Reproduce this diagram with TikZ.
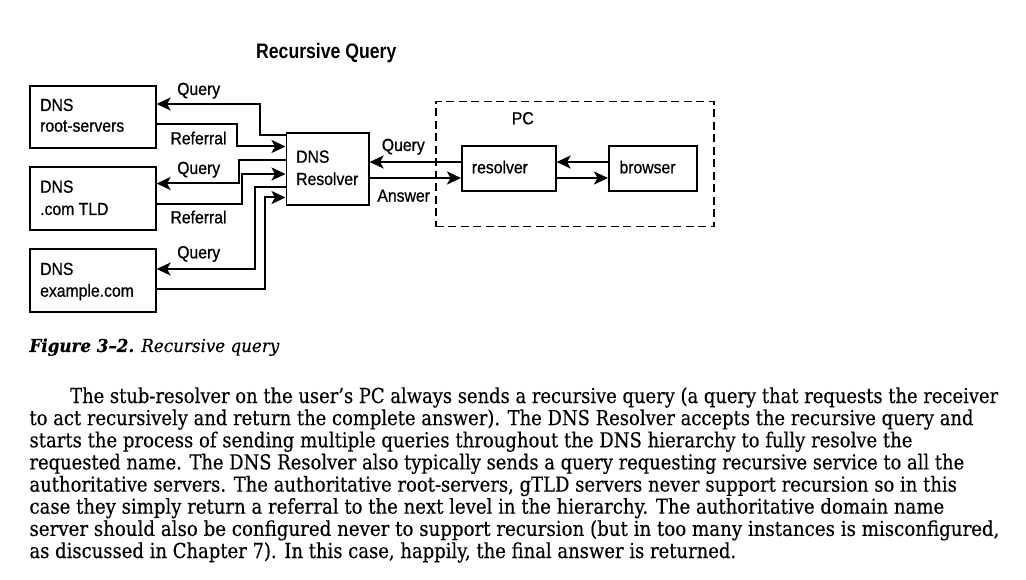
\documentclass[tikz,border=0pt]{standalone}
\usepackage{fontspec}
\usepackage{graphicx}
\usetikzlibrary{arrows.meta}
\newfontfamily\diafont[FakeStretch=0.9,FakeBold=0.7]{Liberation Sans}
\newfontfamily\ttlfont[FakeStretch=0.84]{Liberation Sans}
\newfontfamily\bodyfont[FakeBold=0.25]{DejaVu Serif}
\newlength\fitlen
\newcommand\fitline[2]{\settowidth{\fitlen}{#2}\pgfmathsetmacro\fitsx{#1/\fitlen}\scalebox{\fitsx}[1]{#2}}
\begin{document}
\begin{tikzpicture}[x=1pt,y=-1pt,
  box/.style={draw, line width=1.6pt, inner sep=0pt, anchor=north west},
  pcbox/.style={draw, line width=1.5pt, dash pattern=on 8pt off 4.5pt, inner sep=0pt, anchor=north west},
  lbl/.style={font=\diafont\fontsize{17.5}{21}\selectfont, inner sep=0pt, anchor=base},
  lblw/.style={lbl, anchor=base west},
  arr/.style={line width=2pt, -{Stealth[length=14pt,width=13pt,inset=3.5pt]}},
  para/.style={font=\bodyfont\fontsize{20.6}{22}\selectfont, inner sep=0pt, anchor=base west}]
\useasboundingbox (0,0) rectangle (1026,580);
\fill[white] (0,0) rectangle (1026,580);

% title
\node[inner sep=0pt, anchor=base, font=\ttlfont\bfseries\fontsize{21}{25}\selectfont] (title) at (326.3,58.5) {Recursive Query};

% boxes
\node[box, minimum width=126pt, minimum height=62pt] (root) at (29,85) {};
\node[box, minimum width=126pt, minimum height=63pt] (com) at (29,166) {};
\node[box, minimum width=126pt, minimum height=63pt] (ex) at (29,248) {};
\node[box, minimum width=82.5pt, minimum height=72pt] (res) at (285.5,132) {};
\node[pcbox, minimum width=278pt, minimum height=125pt] (pc) at (435,101) {};
\node[box, minimum width=94pt, minimum height=45pt] (rsv) at (461,145) {};
\node[box, minimum width=88pt, minimum height=45pt] (brw) at (608,145) {};

% box texts
\node[lblw] (rootA) at (40,111) {DNS};
\node[lblw] (rootB) at (40,131.7) {root-servers};
\node[lblw] (comA) at (40,192.7) {DNS};
\node[lblw] (comB) at (40,215) {.com TLD};
\node[lblw] (exA) at (40,275) {DNS};
\node[lblw] (exB) at (40,296.7) {example.com};
\node[lblw] (resA) at (296,162.7) {DNS};
\node[lblw] (resB) at (296,185) {Resolver};
\node[lblw] (rsvT) at (471.7,173.3) {resolver};
\node[lblw] (brwT) at (619.3,173.3) {browser};
\node[lbl] (pcT) at (522.8,124.3) {PC};

% connector labels
\node[lbl] (q1) at (198.7,95) {Query};
\node[lbl] (r1) at (198.5,144.3) {Referral};
\node[lbl] (q2) at (198.7,174) {Query};
\node[lbl] (r2) at (198.5,223.3) {Referral};
\node[lbl] (q3) at (198.7,258.3) {Query};
\node[lbl] (qr) at (403.3,151) {Query};
\node[lbl] (ans) at (403.7,201.7) {Answer};

% connectors left
\draw[arr] ([yshift=-3pt]res.north west) -| ([xshift=103.5pt,yshift=-19pt]root.north east) -- ([yshift=-19pt]root.north east);
\draw[arr] ([yshift=-39.5pt]root.north east) -| ([xshift=-48.5pt,yshift=-14.5pt]res.north west) -- ([yshift=-14.5pt]res.north west);
\draw[arr] ([yshift=-28pt]res.north west) -| ([xshift=82pt,yshift=-17.5pt]com.north east) -- ([yshift=-17.5pt]com.north east);
\draw[arr] ([yshift=-38pt]com.north east) -| ([xshift=-43.5pt,yshift=-42pt]res.north west) -- ([yshift=-42pt]res.north west);
\draw[arr] ([yshift=-55pt]res.north west) -| ([xshift=98.5pt,yshift=-21pt]ex.north east) -- ([yshift=-21pt]ex.north east);
\draw[arr] ([yshift=-41.5pt]ex.north east) -| ([xshift=-21pt,yshift=-65.5pt]res.north west) -- ([yshift=-65.5pt]res.north west);

% connectors right
\draw[arr] ([yshift=-17pt]rsv.north west) -- ([yshift=-30pt]res.north east);
\draw[arr] ([yshift=-46pt]res.north east) -- ([yshift=-33pt]rsv.north west);
\draw[arr] ([yshift=-17pt]brw.north west) -- ([yshift=-17pt]rsv.north east);
\draw[arr] ([yshift=-33pt]rsv.north east) -- ([yshift=-33pt]brw.north west);

% caption
\node[inner sep=0pt, anchor=base west, font=\bodyfont\fontsize{17.8}{20}\selectfont] (cap) at (29.3,352) {\fitline{250}{\textbf{\textit{Figure 3–2.}} \textit{Recursive query}}};

% paragraph
\node[para] (p1) at (70,403) {\fitline{928}{The stub-resolver on the user’s PC always sends a recursive query (a query that requests the receiver}};
\node[para] (p2) at (29.3,425.1) {\fitline{944}{to act recursively and return the complete answer). The DNS Resolver accepts the recursive query and}};
\node[para] (p3) at (29.3,447.3) {\fitline{883}{starts the process of sending multiple queries throughout the DNS hierarchy to fully resolve the}};
\node[para] (p4) at (29.3,469.4) {\fitline{934.7}{requested name. The DNS Resolver also typically sends a query requesting recursive service to all the}};
\node[para] (p5) at (29.3,491.6) {\fitline{927.4}{authoritative servers. The authoritative root-servers, gTLD servers never support recursion so in this}};
\node[para] (p6) at (29.3,513.7) {\fitline{914.7}{case they simply return a referral to the next level in the hierarchy. The authoritative domain name}};
\node[para] (p7) at (29.3,535.9) {\fitline{970}{server should also be configured never to support recursion (but in too many instances is misconfigured,}};
\node[para] (p8) at (29.3,558) {\fitline{706.7}{as discussed in Chapter 7). In this case, happily, the final answer is returned.}};
\end{tikzpicture}
\end{document}
